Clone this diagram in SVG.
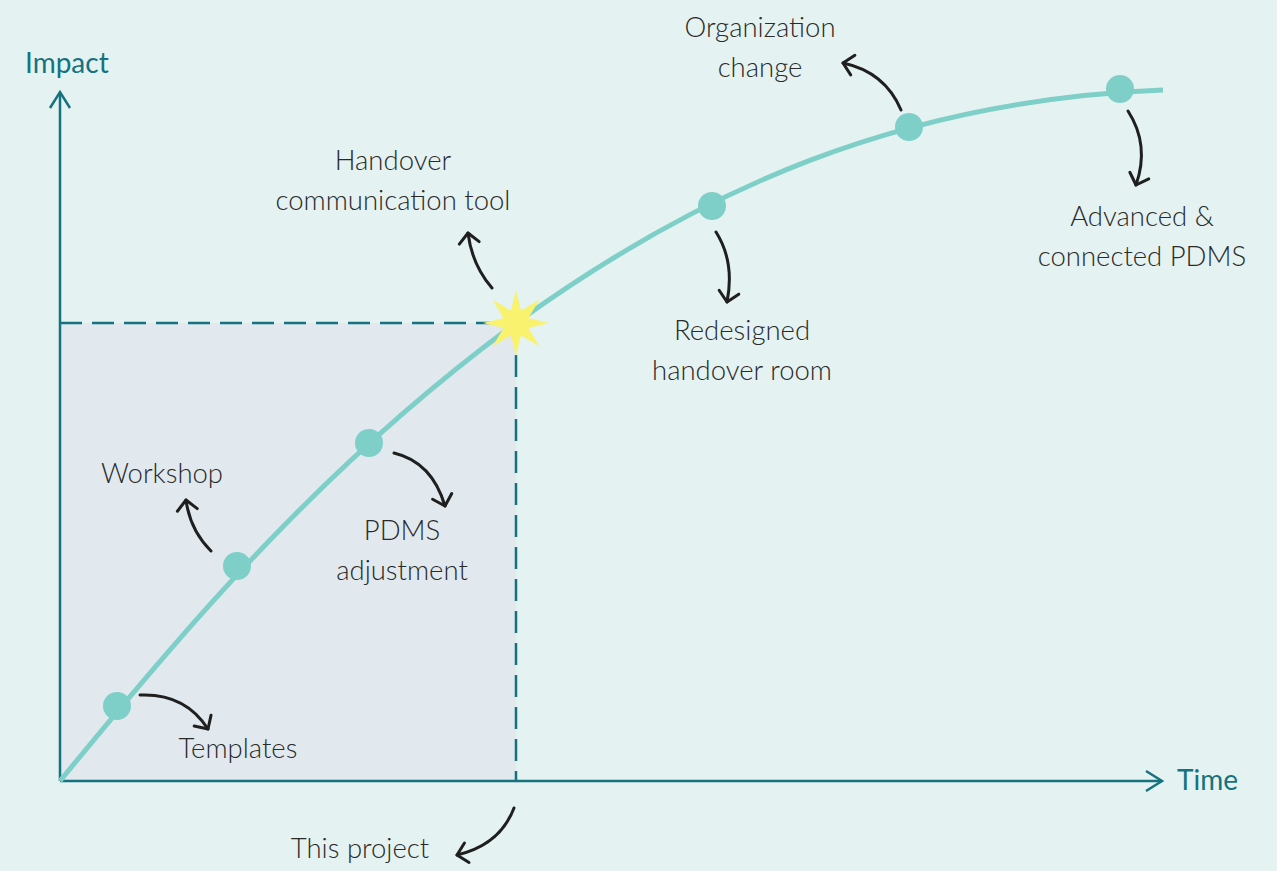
<svg xmlns="http://www.w3.org/2000/svg" width="1277" height="871" viewBox="0 0 1277 871">
<defs>
<style>
.lbl{font-family:Lato,"Open Sans","Liberation Sans",sans-serif;font-size:27.5px;font-weight:300;fill:#2a2a2a;text-anchor:middle}
.ax{font-family:Lato,"Open Sans","Liberation Sans",sans-serif;font-size:28px;fill:#15727f}
.axis{stroke:#15727f;stroke-width:2.5;fill:none}
.dash{stroke:#15727f;stroke-width:2.5;fill:none;stroke-dasharray:22 10}
.arr{stroke:#1f1f1f;stroke-width:3;fill:none;stroke-linecap:round;marker-end:url(#head)}
.dot{fill:#7ecfc8}
</style>
<marker id="head" markerUnits="userSpaceOnUse" markerWidth="30" markerHeight="30" viewBox="-15 -15 30 30" refX="0" refY="0" orient="auto">
<path d="M-10,-10 L0,0 L-10,10" fill="none" stroke="#1f1f1f" stroke-width="3" stroke-linecap="round" stroke-linejoin="round"/>
</marker>
<marker id="axhead" markerUnits="userSpaceOnUse" markerWidth="30" markerHeight="30" viewBox="-20 -15 30 30" refX="0" refY="0" orient="auto">
<path d="M-16,-10 L0,0 L-16,10" fill="none" stroke="#15727f" stroke-width="2.5"/>
</marker>
</defs>
<rect x="0" y="0" width="1277" height="871" fill="#e4f2f1"/>
<rect x="60" y="323" width="456" height="458" fill="#e1e9ee"/>
<g id="axes">
<line class="axis" x1="60" y1="781" x2="60" y2="92" marker-end="url(#axhead)"/>
<line class="axis" x1="60" y1="781" x2="1162" y2="781" marker-end="url(#axhead)"/>
<text class="ax" x="25" y="73">Impact</text>
<text class="ax" x="1177" y="790">Time</text>
</g>
<g id="guides">
<line class="dash" x1="60" y1="323" x2="516" y2="323"/>
<line class="dash" x1="516" y1="323" x2="516" y2="781"/>
</g>
<g id="curve">
<path d="M60,781 C200,610 330,460 516,323 C700,190 900,100 1163,90" fill="none" stroke="#7ecfc8" stroke-width="5"/>
</g>
<g id="connectors">
<path class="arr" d="M140,695 Q185,693 208,729"/>
<path class="arr" d="M211,551 Q190,530 186,500"/>
<path class="arr" d="M394,453 Q432,462 445,506"/>
<path class="arr" d="M492,288 Q472,265 468,233"/>
<path class="arr" d="M716,232 Q735,262 727,302"/>
<path class="arr" d="M901,110 Q885,72 843,63"/>
<path class="arr" d="M1128,111 Q1150,145 1136,185"/>
<path class="arr" d="M514,808 Q500,845 457,855"/>
</g>
<g id="n-templates"><circle class="dot" cx="117" cy="706" r="14"/><text class="lbl" x="238" y="758">Templates</text></g>
<g id="n-workshop"><circle class="dot" cx="237" cy="566" r="14"/><text class="lbl" x="162" y="483">Workshop</text></g>
<g id="n-pdms"><circle class="dot" cx="369" cy="443" r="14"/><text class="lbl" x="402" y="540">PDMS</text><text class="lbl" x="402" y="580">adjustment</text></g>
<g id="n-handover"><polygon fill="#f9f26f" points="516,290 521,310.5 539.3,299.7 528.5,318 549,323 528.5,328 539.3,346.3 521,335.5 516,356 511,335.5 492.7,346.3 503.5,328 483,323 503.5,318 492.7,299.7 511,310.5"/><text class="lbl" x="393" y="170">Handover</text><text class="lbl" x="393" y="210">communication tool</text></g>
<g id="n-room"><circle class="dot" cx="712" cy="206" r="14"/><text class="lbl" x="742" y="340">Redesigned</text><text class="lbl" x="742" y="380">handover room</text></g>
<g id="n-org"><circle class="dot" cx="909" cy="127" r="14"/><text class="lbl" x="760" y="37">Organization</text><text class="lbl" x="760" y="77">change</text></g>
<g id="n-adv"><circle class="dot" cx="1120" cy="89" r="14"/><text class="lbl" x="1142" y="226">Advanced &amp;</text><text class="lbl" x="1142" y="266">connected PDMS</text></g>
<g id="n-project"><text class="lbl" x="360" y="858">This project</text></g>
</svg>
